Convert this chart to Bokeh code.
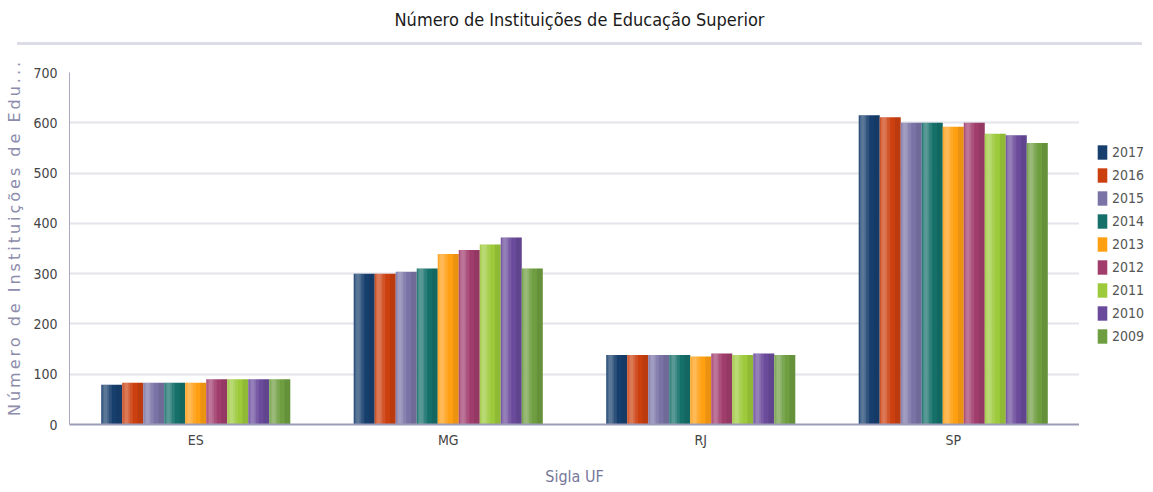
from bokeh.plotting import figure
from bokeh.models import Div, ColumnDataSource, Legend, LegendItem, SingleIntervalTicker
from bokeh.layouts import column, row
from bokeh.transform import dodge
from bokeh.embed import file_html
from bokeh.resources import INLINE

# ---- data ----
ufs = ["ES", "MG", "RJ", "SP"]
years = ["2017", "2016", "2015", "2014", "2013", "2012", "2011", "2010", "2009"]
v2017 = [79, 300, 138, 615]
v2016 = [83, 300, 138, 611]
v2015 = [83, 304, 138, 600]
v2014 = [83, 310, 138, 600]
v2013 = [83, 339, 135, 592]
v2012 = [90, 347, 141, 600]
v2011 = [90, 358, 138, 578]
v2010 = [90, 372, 141, 575]
v2009 = [90, 310, 138, 560]
colors = ["#173f6e", "#cc4010", "#7a74a6", "#15706a", "#ff9f12",
          "#a13d6d", "#9dca3b", "#6a4a9b", "#6e9e3f"]

title_text = "Número de Instituições de Educação Superior"
x_title = "Sigla UF"
y_title = "Número de Instituições de Edu..."

NARROW = "'DejaVu Sans Condensed', 'Liberation Sans Narrow', sans-serif"

series = [v2017, v2016, v2015, v2014, v2013, v2012, v2011, v2010, v2009]
data = dict(uf=ufs)
for yr, vals in zip(years, series):
    data["y" + yr] = vals
src = ColumnDataSource(data)

header = Div(
    text=(f'<div style="box-sizing:content-box;width:1125px;margin-left:12px;height:33px;'
          f'line-height:22px;text-align:center;font-family:{NARROW};font-size:18px;'
          f'color:#1a1a1a;border-bottom:3px solid #dcdce6;padding-top:4px;">{title_text}</div>'),
    width=1137, height=45,
)

ylab = Div(
    text=(f'<div style="box-sizing:content-box;width:20px;height:350px;margin-top:6px;'
          f'writing-mode:vertical-rl;transform:rotate(180deg);text-align:center;'
          f'font-family:\'DejaVu Sans\';font-size:16px;letter-spacing:3px;line-height:20px;'
          f'color:#8c8cac;white-space:nowrap;">{y_title}</div>'),
    width=16, height=420,
)

p = figure(x_range=ufs, y_range=(0, 700), frame_width=1010, frame_height=352,
           output_backend="svg", toolbar_location=None,
           min_border_left=43, min_border_top=17, min_border_right=0, min_border_bottom=5)
p.outline_line_color = None
p.background_fill_color = "white"

bw = 0.0832
for j, yr in enumerate(years):
    off = (j - 4) * bw
    p.vbar(x=dodge("uf", off, range=p.x_range), top="y" + yr, width=bw,
           source=src, fill_color=colors[j], line_color=None)
    # shine overlays (horizontal gradient look)
    for (a, b, col, alpha) in [(0.0, 0.5, "white", 0.10), (0.06, 0.36, "white", 0.13),
                               (0.12, 0.28, "white", 0.10), (0.72, 1.0, "black", 0.08)]:
        sw = (b - a) * bw
        c = off - bw / 2 + a * bw + sw / 2
        p.vbar(x=dodge("uf", c, range=p.x_range), top="y" + yr, width=sw,
               source=src, fill_color=col, fill_alpha=alpha, line_color=None)

p.yaxis.ticker = SingleIntervalTicker(interval=100)
p.xgrid.grid_line_color = None
p.ygrid.grid_line_color = "#e4e4ec"
p.ygrid.grid_line_width = 2

for ax in (p.xaxis, p.yaxis):
    ax.major_tick_line_color = None
    ax.minor_tick_line_color = None
    ax.major_tick_out = 0
    ax.major_tick_in = 0
    ax.major_label_text_font = NARROW
    ax.major_label_text_font_size = "14px"
    ax.major_label_text_color = "#444444"
    ax.axis_label_text_font_style = "normal"

p.xaxis.axis_line_color = "#9c9cb8"
p.xaxis.axis_line_width = 2
p.yaxis.axis_line_color = "#a8a8c2"
p.yaxis.axis_line_width = 1
p.xaxis.major_label_standoff = 7
p.yaxis.major_label_standoff = 8

p.xaxis.axis_label = x_title
p.xaxis.axis_label_text_font = NARROW
p.xaxis.axis_label_text_font_size = "16px"
p.xaxis.axis_label_text_color = "#77779a"
p.xaxis.axis_label_standoff = 16

# ---- legend in its own small panel ----
lp = figure(width=65, height=420, x_range=(0, 1), y_range=(0, 1),
            output_backend="svg", toolbar_location=None,
            min_border=0, min_border_left=0, min_border_right=0,
            min_border_top=0, min_border_bottom=0)
lp.outline_line_color = None
lp.xaxis.visible = False
lp.yaxis.visible = False
lp.xgrid.visible = False
lp.ygrid.visible = False
items = []
for j, yr in enumerate(years):
    ls = ColumnDataSource(dict(x=list(range(len(ufs))), top=series[j]))
    r = lp.vbar(x="x", top="top", width=0.1, source=ls,
                fill_color=colors[j], line_color=None)
    r.visible = False
    items.append(LegendItem(label=yr, renderers=[r]))

legend = Legend(items=items, location=(17, 66))
legend.glyph_width = 12
legend.glyph_height = 18
legend.spacing = 5
legend.label_standoff = 4
legend.label_text_font = NARROW
legend.label_text_font_size = "14px"
legend.label_text_color = "#555555"
legend.border_line_color = None
legend.background_fill_alpha = 0
legend.inactive_fill_alpha = 0
legend.margin = 0
legend.padding = 0
lp.add_layout(legend)

layout = column(header, row(ylab, p, lp, spacing=0), spacing=0)
open("out.html", "w").write(file_html(layout, INLINE))
